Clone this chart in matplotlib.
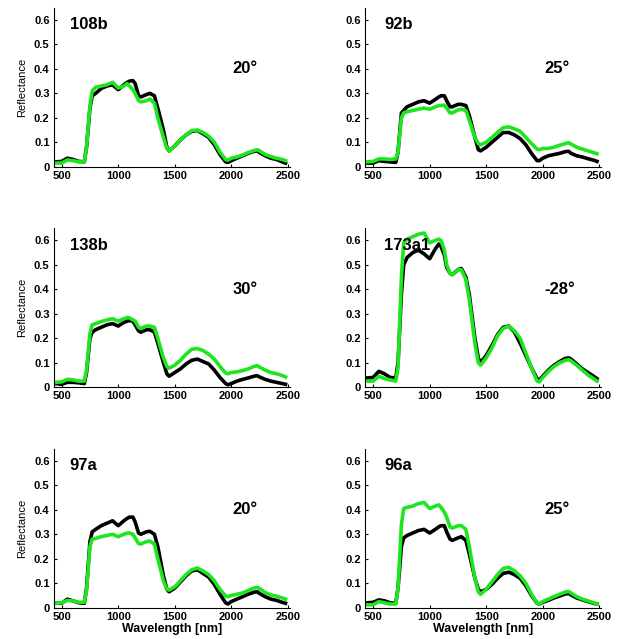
import matplotlib.pyplot as plt

plt.rcParams['font.family'] = ['Liberation Sans', 'DejaVu Sans']

# wavelength grid (nm)
wl = [450, 500, 550, 600, 650, 700, 720, 750, 770, 800,
      850, 900, 950, 1000, 1050,
      1080, 1100, 1130, 1150,
      1180, 1200, 1250, 1280,
      1320, 1350, 1400, 1430, 1450,
      1500, 1550, 1600, 1650, 1700,
      1750, 1800, 1850, 1900, 1950,
      1970, 2000, 2050, 2100, 2150,
      2200, 2230, 2250, 2300, 2350,
      2400, 2450, 2480]

names = ['108b', '92b', '138b', '173a1', '97a', '96a']
angles = ['20°', '25°', '30°', '-28°', '20°', '25°']

black_108b = [0.02, 0.022, 0.035, 0.03, 0.022, 0.02, 0.08, 0.24, 0.29, 0.30,
              0.32, 0.33, 0.335, 0.315, 0.335,
              0.345, 0.35, 0.352, 0.34,
              0.29, 0.285, 0.295, 0.30,
              0.29, 0.24, 0.15, 0.08, 0.065,
              0.085, 0.11, 0.13, 0.145, 0.148,
              0.135, 0.12, 0.09, 0.05, 0.02,
              0.018, 0.025, 0.035, 0.045, 0.055,
              0.063, 0.065, 0.058, 0.045, 0.035,
              0.03, 0.02, 0.015]
green_108b = [0.015, 0.015, 0.028, 0.025, 0.02, 0.02, 0.08, 0.25, 0.31, 0.325,
              0.33, 0.335, 0.345, 0.322, 0.33,
              0.34, 0.33, 0.315, 0.30,
              0.27, 0.265, 0.27, 0.277,
              0.26, 0.2, 0.12, 0.075, 0.065,
              0.085, 0.11, 0.13, 0.148, 0.15,
              0.14, 0.125, 0.1, 0.06, 0.03,
              0.027, 0.035, 0.04, 0.048, 0.058,
              0.066, 0.07, 0.065, 0.05, 0.042,
              0.035, 0.03, 0.025]

black_92b = [0.015, 0.015, 0.025, 0.022, 0.02, 0.018, 0.06, 0.22, 0.23, 0.245,
             0.255, 0.265, 0.27, 0.26, 0.275,
             0.285, 0.29, 0.29, 0.27,
             0.245, 0.245, 0.255, 0.255,
             0.25, 0.21, 0.12, 0.07, 0.065,
             0.08, 0.1, 0.12, 0.14, 0.14,
             0.13, 0.115, 0.09, 0.055, 0.025,
             0.025, 0.035, 0.045, 0.05, 0.055,
             0.062, 0.063, 0.055, 0.045, 0.04,
             0.033, 0.027, 0.022]
green_92b = [0.02, 0.022, 0.032, 0.032, 0.03, 0.032, 0.06, 0.2, 0.22, 0.225,
             0.23, 0.235, 0.24, 0.235, 0.245,
             0.25, 0.25, 0.252, 0.24,
             0.22, 0.22, 0.232, 0.235,
             0.23, 0.19, 0.12, 0.095, 0.09,
             0.1, 0.12, 0.14, 0.16, 0.163,
             0.155, 0.145, 0.12, 0.095, 0.072,
             0.07, 0.075, 0.075, 0.08, 0.088,
             0.095, 0.098, 0.093, 0.08, 0.072,
             0.065, 0.058, 0.053]

black_138b = [0.015, 0.012, 0.02, 0.02, 0.018, 0.015, 0.06, 0.2, 0.225, 0.235,
              0.245, 0.255, 0.26, 0.25, 0.265,
              0.27, 0.272, 0.27, 0.255,
              0.23, 0.225, 0.235, 0.235,
              0.225, 0.18, 0.1, 0.055, 0.045,
              0.06, 0.075, 0.095, 0.11, 0.115,
              0.105, 0.095, 0.07, 0.04, 0.015,
              0.01, 0.015, 0.025, 0.032, 0.038,
              0.045, 0.047, 0.042, 0.032, 0.025,
              0.02, 0.015, 0.012]
green_138b = [0.02, 0.022, 0.032, 0.03, 0.025, 0.025, 0.07, 0.22, 0.255, 0.26,
              0.268, 0.275, 0.28, 0.27, 0.28,
              0.285, 0.283, 0.275, 0.27,
              0.245, 0.24, 0.25, 0.25,
              0.245, 0.2, 0.12, 0.085, 0.078,
              0.09, 0.11, 0.135, 0.155, 0.158,
              0.15, 0.135, 0.115, 0.085, 0.058,
              0.055, 0.06, 0.063, 0.068, 0.075,
              0.085, 0.088, 0.082, 0.07, 0.06,
              0.055, 0.048, 0.042]

black_173a1 = [0.038, 0.04, 0.065, 0.055, 0.04, 0.038, 0.1, 0.38, 0.5, 0.53,
               0.55, 0.56, 0.545, 0.525, 0.565,
               0.585, 0.575, 0.54, 0.49,
               0.465, 0.46, 0.48, 0.485,
               0.45, 0.38, 0.2, 0.12, 0.1,
               0.13, 0.17, 0.215, 0.245, 0.25,
               0.225, 0.18, 0.13, 0.08, 0.035,
               0.03, 0.045, 0.07, 0.09, 0.105,
               0.118, 0.12, 0.115, 0.095, 0.075,
               0.06, 0.045, 0.035]
green_173a1 = [0.025, 0.025, 0.045, 0.035, 0.03, 0.025, 0.08, 0.45, 0.59, 0.605,
               0.615, 0.625, 0.63, 0.59, 0.6,
               0.605, 0.6, 0.56, 0.5,
               0.465, 0.46, 0.48, 0.48,
               0.44, 0.36, 0.18, 0.1, 0.09,
               0.12, 0.16, 0.21, 0.24, 0.25,
               0.23, 0.2, 0.14, 0.08, 0.025,
               0.022, 0.04, 0.065, 0.085, 0.1,
               0.11, 0.112, 0.108, 0.09, 0.07,
               0.05, 0.035, 0.025]

black_97a = [0.018, 0.018, 0.035, 0.028, 0.02, 0.018, 0.08, 0.27, 0.31, 0.32,
             0.335, 0.345, 0.355, 0.335, 0.355,
             0.365, 0.37, 0.37, 0.35,
             0.305, 0.3, 0.31, 0.312,
             0.3, 0.25, 0.13, 0.075, 0.065,
             0.08, 0.105, 0.13, 0.15, 0.155,
             0.14, 0.125, 0.095, 0.055, 0.02,
             0.015, 0.025, 0.035, 0.045, 0.055,
             0.063, 0.065, 0.058, 0.045, 0.035,
             0.03, 0.022, 0.018]
green_97a = [0.018, 0.02, 0.03, 0.028, 0.022, 0.022, 0.07, 0.25, 0.28, 0.283,
             0.29, 0.295, 0.3, 0.29, 0.3,
             0.305, 0.305, 0.3, 0.285,
             0.262, 0.26, 0.27, 0.272,
             0.26, 0.2, 0.11, 0.075, 0.072,
             0.085, 0.11, 0.135, 0.155, 0.162,
             0.15, 0.135, 0.11, 0.075, 0.048,
             0.045, 0.05, 0.055, 0.06, 0.07,
             0.08, 0.083, 0.078, 0.062, 0.052,
             0.047, 0.04, 0.035]

black_96a = [0.02, 0.022, 0.032, 0.028, 0.02, 0.018, 0.08, 0.25, 0.285, 0.295,
             0.305, 0.315, 0.32, 0.305, 0.32,
             0.33, 0.335, 0.335, 0.31,
             0.28, 0.275, 0.285, 0.29,
             0.275, 0.22, 0.12, 0.075, 0.065,
             0.075, 0.095, 0.12, 0.14, 0.145,
             0.135, 0.12, 0.09, 0.05, 0.018,
             0.015, 0.022, 0.03, 0.04, 0.048,
             0.056, 0.058, 0.052, 0.04, 0.032,
             0.025, 0.018, 0.015]
green_96a = [0.012, 0.012, 0.025, 0.02, 0.015, 0.015, 0.08, 0.34, 0.405, 0.41,
             0.415, 0.425, 0.43, 0.405, 0.415,
             0.42, 0.41, 0.39, 0.37,
             0.33, 0.325, 0.335, 0.335,
             0.32, 0.25, 0.12, 0.065, 0.055,
             0.075, 0.105, 0.135, 0.16, 0.165,
             0.15, 0.13, 0.1, 0.055, 0.018,
             0.015, 0.025, 0.035, 0.045, 0.055,
             0.064, 0.066, 0.06, 0.045, 0.035,
             0.028, 0.02, 0.015]

blacks = [black_108b, black_92b, black_138b, black_173a1, black_97a, black_96a]
greens = [green_108b, green_92b, green_138b, green_173a1, green_97a, green_96a]

fig = plt.figure(figsize=(6.18, 6.39), dpi=100)

lefts = [0.087, 0.591]
bottoms = [0.739, 0.394, 0.049]
w, h = 0.382, 0.249

for k in range(6):
    row, col = k // 2, k % 2
    ax = fig.add_axes([lefts[col], bottoms[row], w, h])
    ax.plot(wl, blacks[k], color='black', lw=2.6)
    ax.plot(wl, greens[k], color='#1ee61e', lw=2.6)
    ax.set_xlim(430, 2518)
    ax.set_ylim(0, 0.65)
    ax.set_xticks([500, 1000, 1500, 2000, 2500])
    ax.set_yticks([0, 0.1, 0.2, 0.3, 0.4, 0.5, 0.6])
    ax.set_yticklabels(['0', '0.1', '0.2', '0.3', '0.4', '0.5', '0.6'])
    ax.tick_params(direction='in', length=2.5, width=0.8, labelsize=8, pad=3)
    for lab in ax.get_xticklabels() + ax.get_yticklabels():
        lab.set_fontweight('bold')
    ax.spines['top'].set_visible(False)
    ax.spines['right'].set_visible(False)
    nx = 570 if col == 0 else 600
    ax.text(nx, 0.58, names[k], fontsize=12, fontweight='bold', va='center', ha='left')
    ax.text(2010, 0.40, angles[k], fontsize=12, fontweight='bold', va='center', ha='left')
    if col == 0:
        ax.set_ylabel('Reflectance', fontsize=8, labelpad=5)
    if row == 2:
        ax.set_xlabel('Wavelength [nm]', fontsize=9, fontweight='bold', labelpad=1)

fig.savefig('out.png', dpi=100)
